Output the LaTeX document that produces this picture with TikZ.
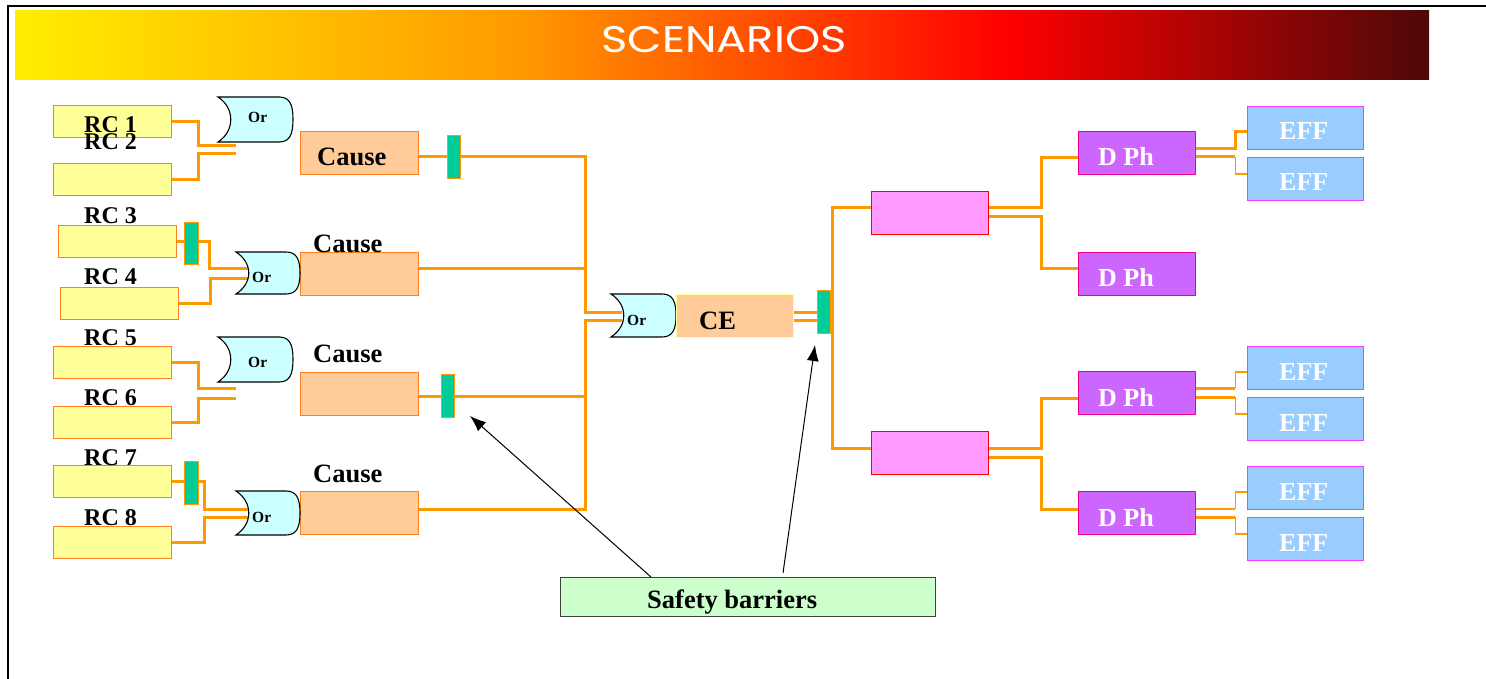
\documentclass[tikz,border=0pt]{standalone}
\usepackage{fontspec}
\setmainfont{Liberation Serif}
\newfontfamily\titlefont{Poppins}
\usetikzlibrary{arrows.meta,calc}
\definecolor{wireor}{HTML}{FF9900}
\definecolor{rcfill}{HTML}{FFFF99}
\definecolor{boxline}{HTML}{FF8020}
\definecolor{causefill}{HTML}{FFCC99}
\definecolor{barfill}{HTML}{00CC99}
\definecolor{gatefill}{HTML}{CCFFFF}
\definecolor{pinkfill}{HTML}{FF99FF}
\definecolor{dphfill}{HTML}{CC66FF}
\definecolor{efffill}{HTML}{99CCFF}
\definecolor{effline}{HTML}{FF33FF}
\definecolor{safefill}{HTML}{CCFFCC}
\definecolor{tyel}{HTML}{FFEE00}
\definecolor{torg}{HTML}{FF9900}
\definecolor{tred}{HTML}{FF0000}
\definecolor{tdark}{HTML}{4E0808}
\pgfdeclarehorizontalshading{titleshade}{100bp}{color(0bp)=(tyel); color(25bp)=(tyel); color(43bp)=(torg); color(60bp)=(tred); color(75bp)=(tdark); color(100bp)=(tdark)}
\tikzset{
  wire/.style={draw=wireor, line width=3pt},
  thinwire/.style={draw=wireor, line width=1.2pt},
  basebox/.style={rectangle, anchor=north west, inner sep=0pt, line width=1.3pt},
  rcbox/.style={basebox, fill=rcfill, draw=boxline, minimum width=118, minimum height=32},
  causebox/.style={basebox, fill=causefill, draw=boxline, minimum width=118, minimum height=43},
  cebox/.style={basebox, fill=causefill, draw=rcfill, minimum width=117, minimum height=43},
  barrier/.style={basebox, fill=barfill, draw=wireor, line width=1pt, minimum width=13, minimum height=43},
  pinkbox/.style={basebox, fill=pinkfill, draw=red, minimum width=117, minimum height=43},
  dphbox/.style={basebox, fill=dphfill, draw=magenta, minimum width=117, minimum height=43},
  effbox/.style={basebox, fill=efffill, draw=effline, minimum width=116, minimum height=43},
  safebox/.style={basebox, fill=safefill, draw=black!75, minimum width=375, minimum height=39},
  gatestyle/.style={fill=gatefill, draw=black, line width=1.1pt},
  lbl/.style={anchor=base west, inner sep=0pt, font=\bfseries\fontsize{24}{24}\selectfont},
  biglbl/.style={lbl, font=\bfseries\fontsize{26.5}{26.5}\selectfont},
  whitelbl/.style={lbl, text=white, font=\bfseries\fontsize{26}{26}\selectfont},
  orlbl/.style={lbl, font=\bfseries\fontsize{15.5}{15.5}\selectfont},
  arr/.style={draw=black, line width=1pt, -{Latex[length=16pt,width=12pt]}},
}
\newcommand{\orgatedraw}[5]{%
  \pgfmathsetmacro{\gxa}{#2}\pgfmathsetmacro{\gya}{#3}%
  \pgfmathsetmacro{\gxb}{#2+#4}\pgfmathsetmacro{\gyb}{#3+#5}%
  \pgfmathsetmacro{\gym}{#3+#5/2}%
  \draw[gatestyle] (\gxa,\gya) -- (\gxb-14,\gya) .. controls (\gxb-3,\gya) and (\gxb,\gya+8) .. (\gxb,\gym) .. controls (\gxb,\gyb-8) and (\gxb-3,\gyb) .. (\gxb-14,\gyb) -- (\gxa,\gyb) .. controls (\gxa+17,\gyb-11) and (\gxa+17,\gya+11) .. (\gxa,\gya) -- cycle;
  \node[inner sep=0pt, minimum width=#4, minimum height=#5] (#1) at (\gxa+#4/2,\gym) {};
}
\begin{document}
\begin{tikzpicture}[x=1pt, y=-1pt]
\useasboundingbox (0,0) rectangle (1486,679);
% frame
\draw[line width=2.2pt] (8,679) -- (8,6) -- (1486,6);
% title
\shade[shading=titleshade] (15,11) rectangle (1429,80);
\node[anchor=base, inner sep=0pt, text=white, font=\titlefont\fontsize{37}{37}\selectfont] (title) at (724,53) {\scalebox{1.21}[1]{SCENARIOS}};

% RC boxes
\node[rcbox] (rc1) at (53,105) {};
\node[rcbox] (rc2) at (53,163) {};
\node[rcbox] (rc3) at (58,225) {};
\node[rcbox] (rc4) at (60,287) {};
\node[rcbox] (rc5) at (53,346) {};
\node[rcbox] (rc6) at (53,406) {};
\node[rcbox] (rc7) at (53,465) {};
\node[rcbox] (rc8) at (53,526) {};
% barriers on RC
\node[barrier, minimum width=14, minimum height=42] (bc3) at (184,222) {};
\node[barrier, minimum width=14] (bc7) at (184,461) {};

% cause boxes
\node[causebox] (cause1) at (300,131) {};
\node[causebox] (cause2) at (300,252) {};
\node[causebox] (cause3) at (300,372) {};
\node[causebox] (cause4) at (300,491) {};
\node[barrier] (b1) at (447,135) {};
\node[barrier] (b3) at (441,374) {};

% gate input coordinates
\coordinate (g1a) at (236,146); \coordinate (g1b) at (236,154);
\coordinate (g2a) at (248,268); \coordinate (g2b) at (248,278);
\coordinate (g3a) at (236,388); \coordinate (g3b) at (236,398);
\coordinate (g4a) at (248,509); \coordinate (g4b) at (248,517);
\coordinate (busT) at (585,312); \coordinate (busB) at (585,320);
\coordinate (gca) at (622,312); \coordinate (gcb) at (622,320);

% RC wires
\draw[wire] (rc1.east) -- ++(26,0) |- (g1a);
\draw[wire] (rc2.east) -- ++(26,0) |- (g1b);
\draw[wire] (rc3.east) -- (rc3.east -| bc3.west);
\draw[wire] (bc3.east |- rc3.east) -- ++(10,0) |- (g2a);
\draw[wire] (rc4.east) -- ++(31,0) |- (g2b);
\draw[wire] (rc5.east) -- ++(26,0) |- (g3a);
\draw[wire] (rc6.east) -- ++(26,0) |- (g3b);
\draw[wire] (rc7.east) -- (rc7.east -| bc7.west);
\draw[wire] (bc7.east |- rc7.east) -- ++(5,0) |- (g4a);
\draw[wire] (rc8.east) -- ++(32,0) |- (g4b);

% cause wires to bus
\draw[wire] (cause1.east |- b1.center) -- (b1.west);
\draw[wire] (b1.east) -- (b1.east -| busT) -- (busT) -- (gca);
\draw[wire] (cause2.east |- g2a) -- (g2a -| busT);
\draw[wire] (cause3.east |- b3.center) -- (b3.west);
\draw[wire] (b3.east) -- (b3.east -| busB);
\draw[wire] (cause4.east |- g4a) -- (g4a -| busB) -- (busB) -- (gcb);

% gates
\orgatedraw{g1}{218}{97}{75}{45}
\orgatedraw{g2}{236}{252}{64}{42}
\orgatedraw{g3}{218}{337}{75}{45}
\orgatedraw{g4}{236}{491}{64}{44}
\orgatedraw{gc}{611}{294}{65}{43}

% CE and barrier
\node[cebox] (ce) at (676,294) {};
\node[barrier] (bce) at (817,290) {};
\draw[wire] (ce.east |- gca) -- (bce.west |- gca);
\draw[wire] (ce.east |- gcb) -- (bce.west |- gcb);

% right side boxes
\node[pinkbox] (p1) at (871,191) {};
\node[pinkbox] (p2) at (871,431) {};
\node[dphbox] (d1) at (1078,131) {};
\node[dphbox] (d2) at (1078,252) {};
\node[dphbox] (d3) at (1078,371) {};
\node[dphbox] (d4) at (1078,491) {};
\node[effbox] (e1) at (1247,106) {};
\node[effbox] (e2) at (1247,157) {};
\node[effbox] (e3) at (1247,346) {};
\node[effbox] (e4) at (1247,397) {};
\node[effbox] (e5) at (1247,466) {};
\node[effbox] (e6) at (1247,517) {};

\coordinate (rA) at (832,208); \coordinate (rB) at (832,448);
\draw[wire] (p1.west |- rA) -- (rA) -- (rB) -- (p2.west |- rB);
% pink to D Ph
\draw[wire] (p1.east |- 0,208) -- ++(52,0) |- (d1.west |- 0,158);
\draw[wire] (p1.east |- 0,217) -- ++(52,0) |- (d2.west |- 0,268);
\draw[wire] (p2.east |- 0,448) -- ++(52,0) |- (d3.west |- 0,398);
\draw[wire] (p2.east |- 0,457) -- ++(52,0) |- (d4.west |- 0,509);
% D Ph to EFF
\draw[wire] (d1.east |- 0,149) -- ++(39,0) |- (e1.west |- 0,132);
\draw[wire] (d1.east |- 0,157) -- ++(39,0) coordinate (k2);
\draw[thinwire] (k2) |- (e2.west |- 0,174);
\draw[wire] (d3.east |- 0,388) -- ++(39,0) coordinate (k3);
\draw[thinwire] (k3) |- (e3.west |- 0,372);
\draw[wire] (d3.east |- 0,397) -- ++(39,0) coordinate (k4);
\draw[thinwire] (k4) |- (e4.west |- 0,414);
\draw[wire, line width=2.4pt] (d4.east |- 0,509) -- ++(39,0) coordinate (k5);
\draw[thinwire] (k5) |- (e5.west |- 0,492);
\draw[wire] (d4.east |- 0,517) -- ++(39,0) coordinate (k6);
\draw[thinwire] (k6) |- (e6.west |- 0,534);

% safety barriers box and arrows
\node[safebox] (sb) at (560,577) {};
\coordinate (sa1) at (651,577); \coordinate (tip1) at (470,416);
\coordinate (sa2) at (783,573); \coordinate (tip2) at (815,345);
\draw[arr] (sa1) -- (tip1);
\draw[arr] (sa2) -- (tip2);

% labels
\node[lbl] (t1) at (84,133) {RC 1};
\node[lbl] (t2) at (84,150) {RC 2};
\node[lbl] (t3) at (84,224) {RC 3};
\node[lbl] (t4) at (84,284) {RC 4};
\node[lbl] (t5) at (84,345) {RC 5};
\node[lbl] (t6) at (84,405) {RC 6};
\node[lbl] (t7) at (84,465) {RC 7};
\node[lbl] (t8) at (84,525) {RC 8};
\node[biglbl] (tc1) at (317,166) {Cause};
\node[biglbl] (tc2) at (313,253) {Cause};
\node[biglbl] (tc3) at (313,362) {Cause};
\node[biglbl] (tc4) at (313,482) {Cause};
\node[orlbl] (o1) at (248,123) {Or};
\node[orlbl] (o2) at (252,282) {Or};
\node[orlbl] (o3) at (248,367) {Or};
\node[orlbl] (o4) at (252,522) {Or};
\node[orlbl] (oc) at (627,325) {Or};
\node[biglbl] (tce) at (699,329) {CE};
\node[whitelbl] (td1) at (1098,166) {D Ph};
\node[whitelbl] (td2) at (1098,287) {D Ph};
\node[whitelbl] (td3) at (1098,406) {D Ph};
\node[whitelbl] (td4) at (1098,526) {D Ph};
\node[whitelbl] (te1) at (1279,140) {EFF};
\node[whitelbl] (te2) at (1279,191) {EFF};
\node[whitelbl] (te3) at (1279,380) {EFF};
\node[whitelbl] (te4) at (1279,431) {EFF};
\node[whitelbl] (te5) at (1279,500) {EFF};
\node[whitelbl] (te6) at (1279,551) {EFF};
\node[biglbl] (tsb) at (647,608) {Safety barriers};
\end{tikzpicture}
\end{document}
